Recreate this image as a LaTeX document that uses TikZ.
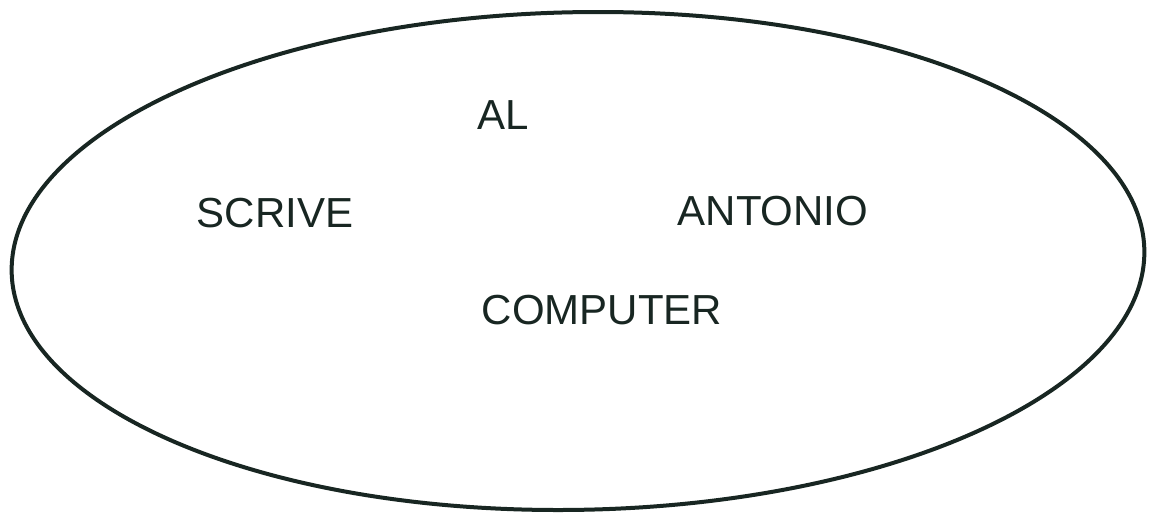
\documentclass[tikz,border=0pt]{standalone}
\usepackage{fontspec}
\setmainfont{Liberation Sans}
\usetikzlibrary{positioning}
\definecolor{ink}{RGB}{24,38,34}

\begin{document}
\begin{tikzpicture}[x=1pt,y=-1pt,word/.style={text=ink,inner sep=0pt,font=\fontsize{42}{48}\selectfont}]
\useasboundingbox (0,0) rectangle (1159,515);
\draw[ink,line width=4pt,shift={(578,261)},xslant=0.08] (0,0) ellipse [x radius=566pt,y radius=249pt];
\node[word] (al) at (503,115) {AL};
\node[word] (scrive) at (275,213) {SCRIVE};
\node[word] (antonio) at (773,211) {ANTONIO};
\node[word] (computer) at (602,310) {COMPUTER};
\end{tikzpicture}
\end{document}
